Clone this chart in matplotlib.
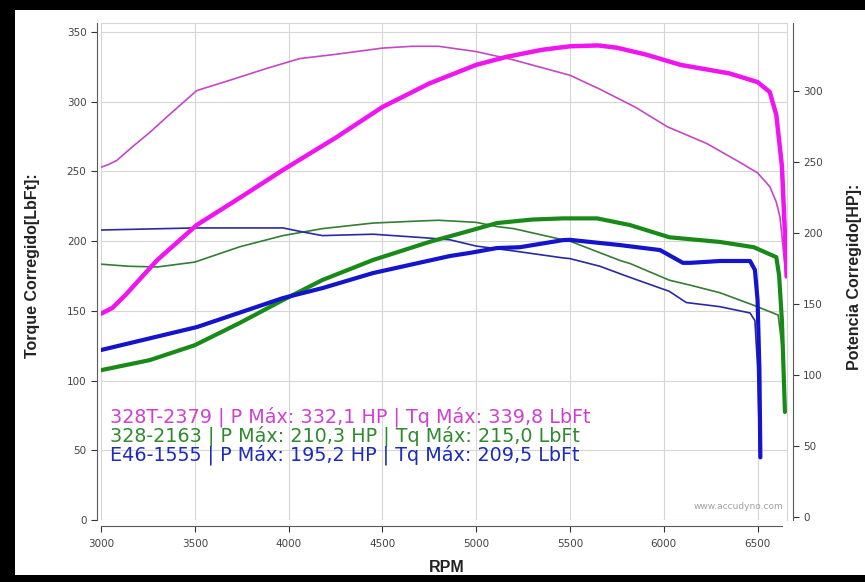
import numpy as np
import matplotlib
matplotlib.use('Agg')
import matplotlib.pyplot as plt
import matplotlib.patches as mpatches

# ---- data ----
# 328T-2379 torque (LbFt) / power (HP)
rpm_tq_328t = [3000, 3040, 3085, 3170, 3260, 3350, 3510, 3700, 3885, 4060, 4250, 4500,
               4660, 4800, 5000, 5200, 5500, 5660, 5850, 6020, 6230, 6400, 6500, 6566,
               6600, 6620, 6640, 6652]
tq_328t = [253, 255, 258, 268, 278, 289, 308, 316, 324, 331, 334, 338.5,
           339.8, 339.8, 336, 330, 319, 309, 296, 282, 270, 257, 249, 239,
           228, 217, 190, 176]
rpm_hp_328t = [3000, 3060, 3130, 3300, 3510, 3740, 3970, 4250, 4500, 4750, 5000, 5160,
               5350, 5500, 5650, 5750, 5910, 6090, 6350, 6500, 6565, 6600, 6630, 6646, 6655]
hp_328t = [143.2, 147.2, 156.3, 181, 205.6, 224.8, 244.4, 267, 288.7, 305.3, 318.4, 324,
           329, 331.5, 332.1, 330.5, 325.5, 318.4, 312.4, 306.3, 299.3, 283.2, 247, 199.6, 169.4]

# 328-2163
rpm_tq_328 = [3000, 3150, 3300, 3500, 3740, 3970, 4180, 4450, 4700, 4800, 5000, 5110,
              5200, 5463, 5500, 5770, 5820, 6030, 6140, 6300, 6480, 6610, 6630, 6645]
tq_328 = [183.5, 182, 181.5, 185, 196, 204, 209, 213, 214.5, 215, 213.5, 210.5,
          209, 201, 200, 186, 184, 172, 168.5, 163, 154, 147, 125, 95]
rpm_hp_328 = [3000, 3260, 3500, 3740, 3970, 4180, 4450, 4750, 4950, 5110, 5300, 5463,
              5645, 5820, 6030, 6300, 6480, 6600, 6615, 6630, 6646]
hp_328 = [103.4, 110.5, 121, 136.7, 152.8, 166.9, 181, 193.7, 201, 207, 209.5, 210.3,
          210.3, 205.6, 197, 193.7, 190, 183, 170, 138, 74]

# E46-1555
rpm_tq_e46 = [3000, 3500, 3970, 4080, 4180, 4450, 4720, 4860, 5000, 5200, 5463, 5500,
              5660, 5800, 6030, 6120, 6300, 6460, 6486, 6500, 6512]
tq_e46 = [208, 209.5, 209.5, 206.5, 204, 205, 202.5, 201, 196.5, 193, 188, 187.5,
          182, 175, 164, 156, 153, 148.5, 143, 110, 45]
rpm_hp_e46 = [3000, 3512, 3970, 4183, 4450, 4716, 4860, 4967, 5110, 5233, 5463, 5500,
              5767, 5980, 6102, 6142, 6300, 6460, 6486, 6500, 6510, 6515]
hp_e46 = [117.6, 133.8, 154.2, 161.3, 171.8, 179.6, 183.8, 186, 189.4, 190, 195, 195.2,
          191.5, 188, 179, 179, 180.3, 180.3, 174, 153, 103.5, 42]

legend_lines = [
    '328T-2379 | P Máx: 332,1 HP | Tq Máx: 339,8 LbFt',
    '328-2163 | P Máx: 210,3 HP | Tq Máx: 215,0 LbFt',
    'E46-1555 | P Máx: 195,2 HP | Tq Máx: 209,5 LbFt',
]

MAG_THICK, MAG_THIN, MAG_TXT = '#f014f0', '#c448c4', '#d040d0'
GRN_THICK, GRN_THIN, GRN_TXT = '#188a18', '#347d34', '#2f8a2f'
BLU_THICK, BLU_THIN, BLU_TXT = '#1414cc', '#2a2aa0', '#1c2cb8'
AXIS_COL = '#5a5a5a'
GRID_COL = '#d6d6d6'

W, H = 865, 582
fig = plt.figure(figsize=(W / 100, H / 100), dpi=100)
fig.patch.set_facecolor('black')
# white sheet inside the black frame
fig.patches.append(mpatches.Rectangle((15 / W, 7 / H), (W - 15) / W, (572 - 7) / H,
                                      transform=fig.transFigure, facecolor='white',
                                      edgecolor='none', zorder=-10))

ax = fig.add_axes([101 / W, 62 / H, 686 / W, 497 / H])
ax.set_facecolor('white')
ax2 = ax.twinx()

# torque: thin lines, left axis
ax.plot(rpm_tq_328t, tq_328t, color=MAG_THIN, lw=1.2, zorder=3)
ax.plot(rpm_tq_328, tq_328, color=GRN_THIN, lw=1.2, zorder=3)
ax.plot(rpm_tq_e46, tq_e46, color=BLU_THIN, lw=1.2, zorder=3)

# power: thick lines, right axis
ax2.plot(rpm_hp_328t, hp_328t, color=MAG_THICK, lw=3.2, solid_capstyle='round')
ax2.plot(rpm_hp_328, hp_328, color=GRN_THICK, lw=3.0, solid_capstyle='round')
ax2.plot(rpm_hp_e46, hp_e46, color=BLU_THICK, lw=3.0, solid_capstyle='round')

ax.set_xlim(3000, 6657)
ax.set_ylim(0, 356.5)
ax2.set_ylim(-2.1, 347.9)

ax.set_xticks(np.arange(3000, 6501, 500))
ax.set_yticks(np.arange(0, 351, 50))
ax2.set_yticks(np.arange(0, 301, 50))

ax.grid(True, color=GRID_COL, lw=0.8)
ax.set_axisbelow(True)

# spines: dark offset axes like the dyno software, light frame around plot
ax.spines['left'].set_position(('outward', 3))
ax.spines['left'].set_color(AXIS_COL)
ax.spines['bottom'].set_position(('outward', 4.5))
ax.spines['bottom'].set_color(AXIS_COL)
ax.spines['bottom'].set_bounds(3000, 6630)
ax.spines['top'].set_color(GRID_COL)
ax.spines['right'].set_color(GRID_COL)
for s in ['left', 'top', 'bottom']:
    ax2.spines[s].set_visible(False)
ax2.spines['right'].set_position(('outward', 4))
ax2.spines['right'].set_color(AXIS_COL)

tick_kw = dict(colors='#333333', labelsize=7.5, length=4, width=0.8, direction='out')
ax.tick_params(axis='both', **tick_kw)
ax.tick_params(axis='x', pad=5)
ax2.tick_params(axis='y', **tick_kw)
for t in ax.get_xticklabels() + ax.get_yticklabels() + ax2.get_yticklabels():
    t.set_color('#444444')

# axis titles placed in pixels of the sheet
lab_kw = dict(fontsize=11.5, fontweight='bold', color='#222222', family='Liberation Sans',
              ha='center', va='center')
fig.text(33 / W, 1 - 266 / H, 'Torque Corregido[LbFt]:', rotation=90, **lab_kw)
fig.text(855 / W, 1 - 277 / H, 'Potencia Corregido[HP]:', rotation=90, **lab_kw)
fig.text(447 / W, 1 - 567 / H, 'RPM', **lab_kw)

# legend block inside the plot
for i, (txt, col) in enumerate(zip(legend_lines, [MAG_TXT, GRN_TXT, BLU_TXT])):
    ax.text(0.013, 0.207 - i * 0.038, txt, transform=ax.transAxes, color=col,
            fontsize=13.8, family='DejaVu Sans', va='center', ha='left', zorder=5)

ax.text(0.994, 0.027, 'www.accudyno.com', transform=ax.transAxes, color='#a0a0a0',
        fontsize=6.5, ha='right', va='center')

fig.savefig('out.png', dpi=100, facecolor=fig.get_facecolor())
